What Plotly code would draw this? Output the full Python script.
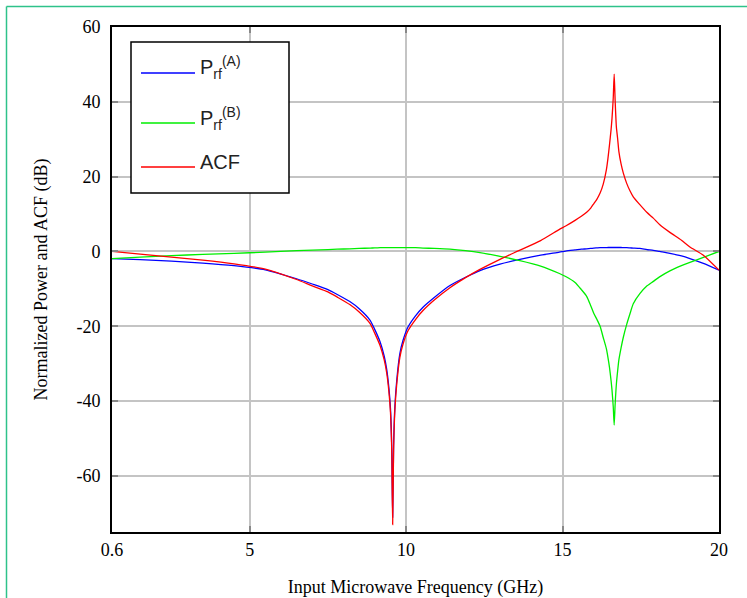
import plotly.graph_objects as go

# ---- data ----
freq_ghz = [0.6, 1.5, 2.5, 3.5, 4.5, 5.5, 6.5, 7.0, 7.5, 7.8, 8.2, 8.5, 8.85, 9.0,
            9.17, 9.3, 9.38, 9.45, 9.5, 9.54, 9.57, 9.6, 9.64, 9.7, 9.8, 9.9, 10.06,
            10.3, 10.54, 10.9, 11.4, 11.9, 12.36, 13.0, 13.6, 14.3, 14.9, 15.1, 15.4,
            15.6, 15.77, 15.9, 16.0, 16.1, 16.2, 16.3, 16.4, 16.45, 16.5, 16.55, 16.58,
            16.62, 16.65, 16.68, 16.72, 16.76, 16.8, 16.87, 16.94, 17.05, 17.15, 17.26,
            17.47, 17.7, 17.9, 18.1, 18.43, 18.8, 19.07, 19.5, 20.0]

prf_a_db = [-1.9, -2.2, -2.6, -3.1, -3.8, -4.9, -7.3, -8.7, -10.2, -11.5, -13.4, -15.3,
            -18.4, -20.9, -24.2, -28.0, -31.5, -36.5, -42.0, -52.0, -71.0, -52.0, -41.6,
            -34.5, -27.3, -23.8, -20.2, -17.2, -14.9, -12.3, -9.1, -6.9, -5.1, -3.4,
            -2.2, -1.0, -0.2, 0.1, 0.4, 0.6, 0.7, 0.8, 0.9, 0.95, 1.0, 1.0, 1.0, 1.05,
            1.05, 1.05, 1.05, 1.05, 1.05, 1.05, 1.05, 1.05, 1.05, 1.05, 1.0, 1.0, 0.95,
            0.9, 0.8, 0.5, 0.3, 0.0, -0.5, -1.2, -1.9, -3.2, -5.0]

prf_b_db = [-1.9, -1.5, -1.1, -0.8, -0.5, -0.2, 0.2, 0.35, 0.5, 0.6, 0.7, 0.8, 0.9, 0.95,
            1.0, 1.0, 1.0, 1.0, 1.0, 1.0, 1.0, 1.0, 1.0, 1.0, 1.0, 1.0, 1.0, 1.0, 0.9,
            0.8, 0.6, 0.2, -0.3, -1.3, -2.4, -3.9, -5.9, -6.7, -8.3, -10.2, -12.0,
            -14.5, -16.6, -18.2, -20.0, -23.0, -26.0, -28.3, -31.0, -34.5, -37.0, -41.5,
            -46.4, -41.0, -35.5, -32.0, -29.0, -25.8, -23.0, -19.5, -16.8, -14.0, -11.3,
            -9.2, -8.0, -6.8, -5.2, -3.8, -2.9, -1.6, 0.0]

acf_db = [0.0, -0.7, -1.5, -2.3, -3.3, -4.7, -7.5, -9.2, -10.8, -12.2, -14.2, -16.2,
          -19.3, -21.9, -25.2, -29.0, -32.5, -37.5, -43.0, -53.0, -73.0, -53.0, -42.6,
          -35.5, -28.3, -24.8, -21.2, -18.2, -15.8, -13.0, -9.7, -7.0, -4.8, -2.1, 0.2,
          2.9, 5.9, 6.8, 8.3, 9.4, 10.5, 11.6, 12.8, 14.0, 15.6, 18.0, 21.8, 24.8,
          28.5, 32.5, 35.5, 41.0, 47.4, 40.5, 33.3, 30.2, 26.7, 23.4, 21.0, 18.2, 16.3,
          14.6, 12.5, 10.4, 8.9, 7.2, 5.1, 3.0, 1.2, -1.0, -5.0]

series_names = ["P<sub>rf</sub><sup>(A)</sup>", "P<sub>rf</sub><sup>(B)</sup>", "ACF"]
series_colors = ["#0000ff", "#00ee00", "#ff0000"]
x_ticks = [0.6, 5, 10, 15, 20]
x_tick_text = ["0.6", "5", "10", "15", "20"]
y_ticks = [-60, -40, -20, 0, 20, 40, 60]
y_tick_text = ["-60", "-40", "-20", "0", "20", "40", "60"]

# ---- figure ----
W, H = 747, 598
ML, MR, MT, MB = 112, 28, 27, 66
PW, PH = W - ML - MR, H - MT - MB


def px(xp):
    return (xp - ML) / PW


def py(yp):
    return (H - MB - yp) / PH


fig = go.Figure()
for name, col, vals in zip(series_names, series_colors, [prf_a_db, prf_b_db, acf_db]):
    fig.add_trace(go.Scatter(x=freq_ghz, y=vals, mode="lines", name=name,
                             line=dict(color=col, width=1.3, shape="spline", smoothing=0.6),
                             showlegend=False))

serif = "Liberation Serif, Times New Roman, serif"
sans = "Liberation Sans, Arial, sans-serif"

axis_common = dict(showgrid=True, gridcolor="#c4c4c4", gridwidth=1.5, zeroline=False,
                   showline=True, linecolor="black", linewidth=2, mirror="ticks",
                   ticks="inside", ticklen=6, tickcolor="#888888", tickwidth=1.5,
                   automargin=False,
                   tickfont=dict(family=serif, size=18, color="black"))

fig.update_xaxes(range=[0.6, 20], tickvals=x_ticks, ticktext=x_tick_text,
                 title=dict(text="Input Microwave Frequency (GHz)",
                            font=dict(family=serif, size=18, color="black"), standoff=22),
                 **axis_common)
fig.update_yaxes(range=[-75, 60], tickvals=y_ticks, ticktext=y_tick_text,
                 ticklabelstandoff=6,
                 title=dict(text="Normalized Power and ACF (dB)",
                            font=dict(family=serif, size=18, color="black"), standoff=24),
                 **axis_common)

shapes = []
# outer teal frame (top and left edges)
shapes.append(dict(type="line", xref="paper", yref="paper", x0=px(6.5), x1=px(760),
                   y0=py(6.5), y1=py(6.5), line=dict(color="#2ec28a", width=1.5)))
shapes.append(dict(type="line", xref="paper", yref="paper", x0=px(6.5), x1=px(6.5),
                   y0=py(6.5), y1=py(610), line=dict(color="#2ec28a", width=1.5)))
# legend box
shapes.append(dict(type="rect", xref="paper", yref="paper", x0=px(131), x1=px(289),
                   y0=py(193), y1=py(42), line=dict(color="black", width=1.5),
                   fillcolor="white", layer="above"))
annotations = []
leg_y = [73, 123, 167]
for name, col, ly in zip(series_names, series_colors, leg_y):
    shapes.append(dict(type="line", xref="paper", yref="paper", x0=px(141), x1=px(195),
                       y0=py(ly), y1=py(ly), line=dict(color=col, width=1.5), layer="above"))
    annotations.append(dict(text=name, xref="paper", yref="paper", x=px(198), y=py(ly - 5),
                            xanchor="left", yanchor="middle", showarrow=False,
                            font=dict(family=sans, size=20, color="#222222")))

fig.update_layout(width=W, height=H, margin=dict(l=ML, r=MR, t=MT, b=MB),
                  paper_bgcolor="white", plot_bgcolor="white",
                  shapes=shapes, annotations=annotations, showlegend=False)

fig.write_html("out.html", config={"displayModeBar": False},
               post_script="document.body.style.margin='0';")
